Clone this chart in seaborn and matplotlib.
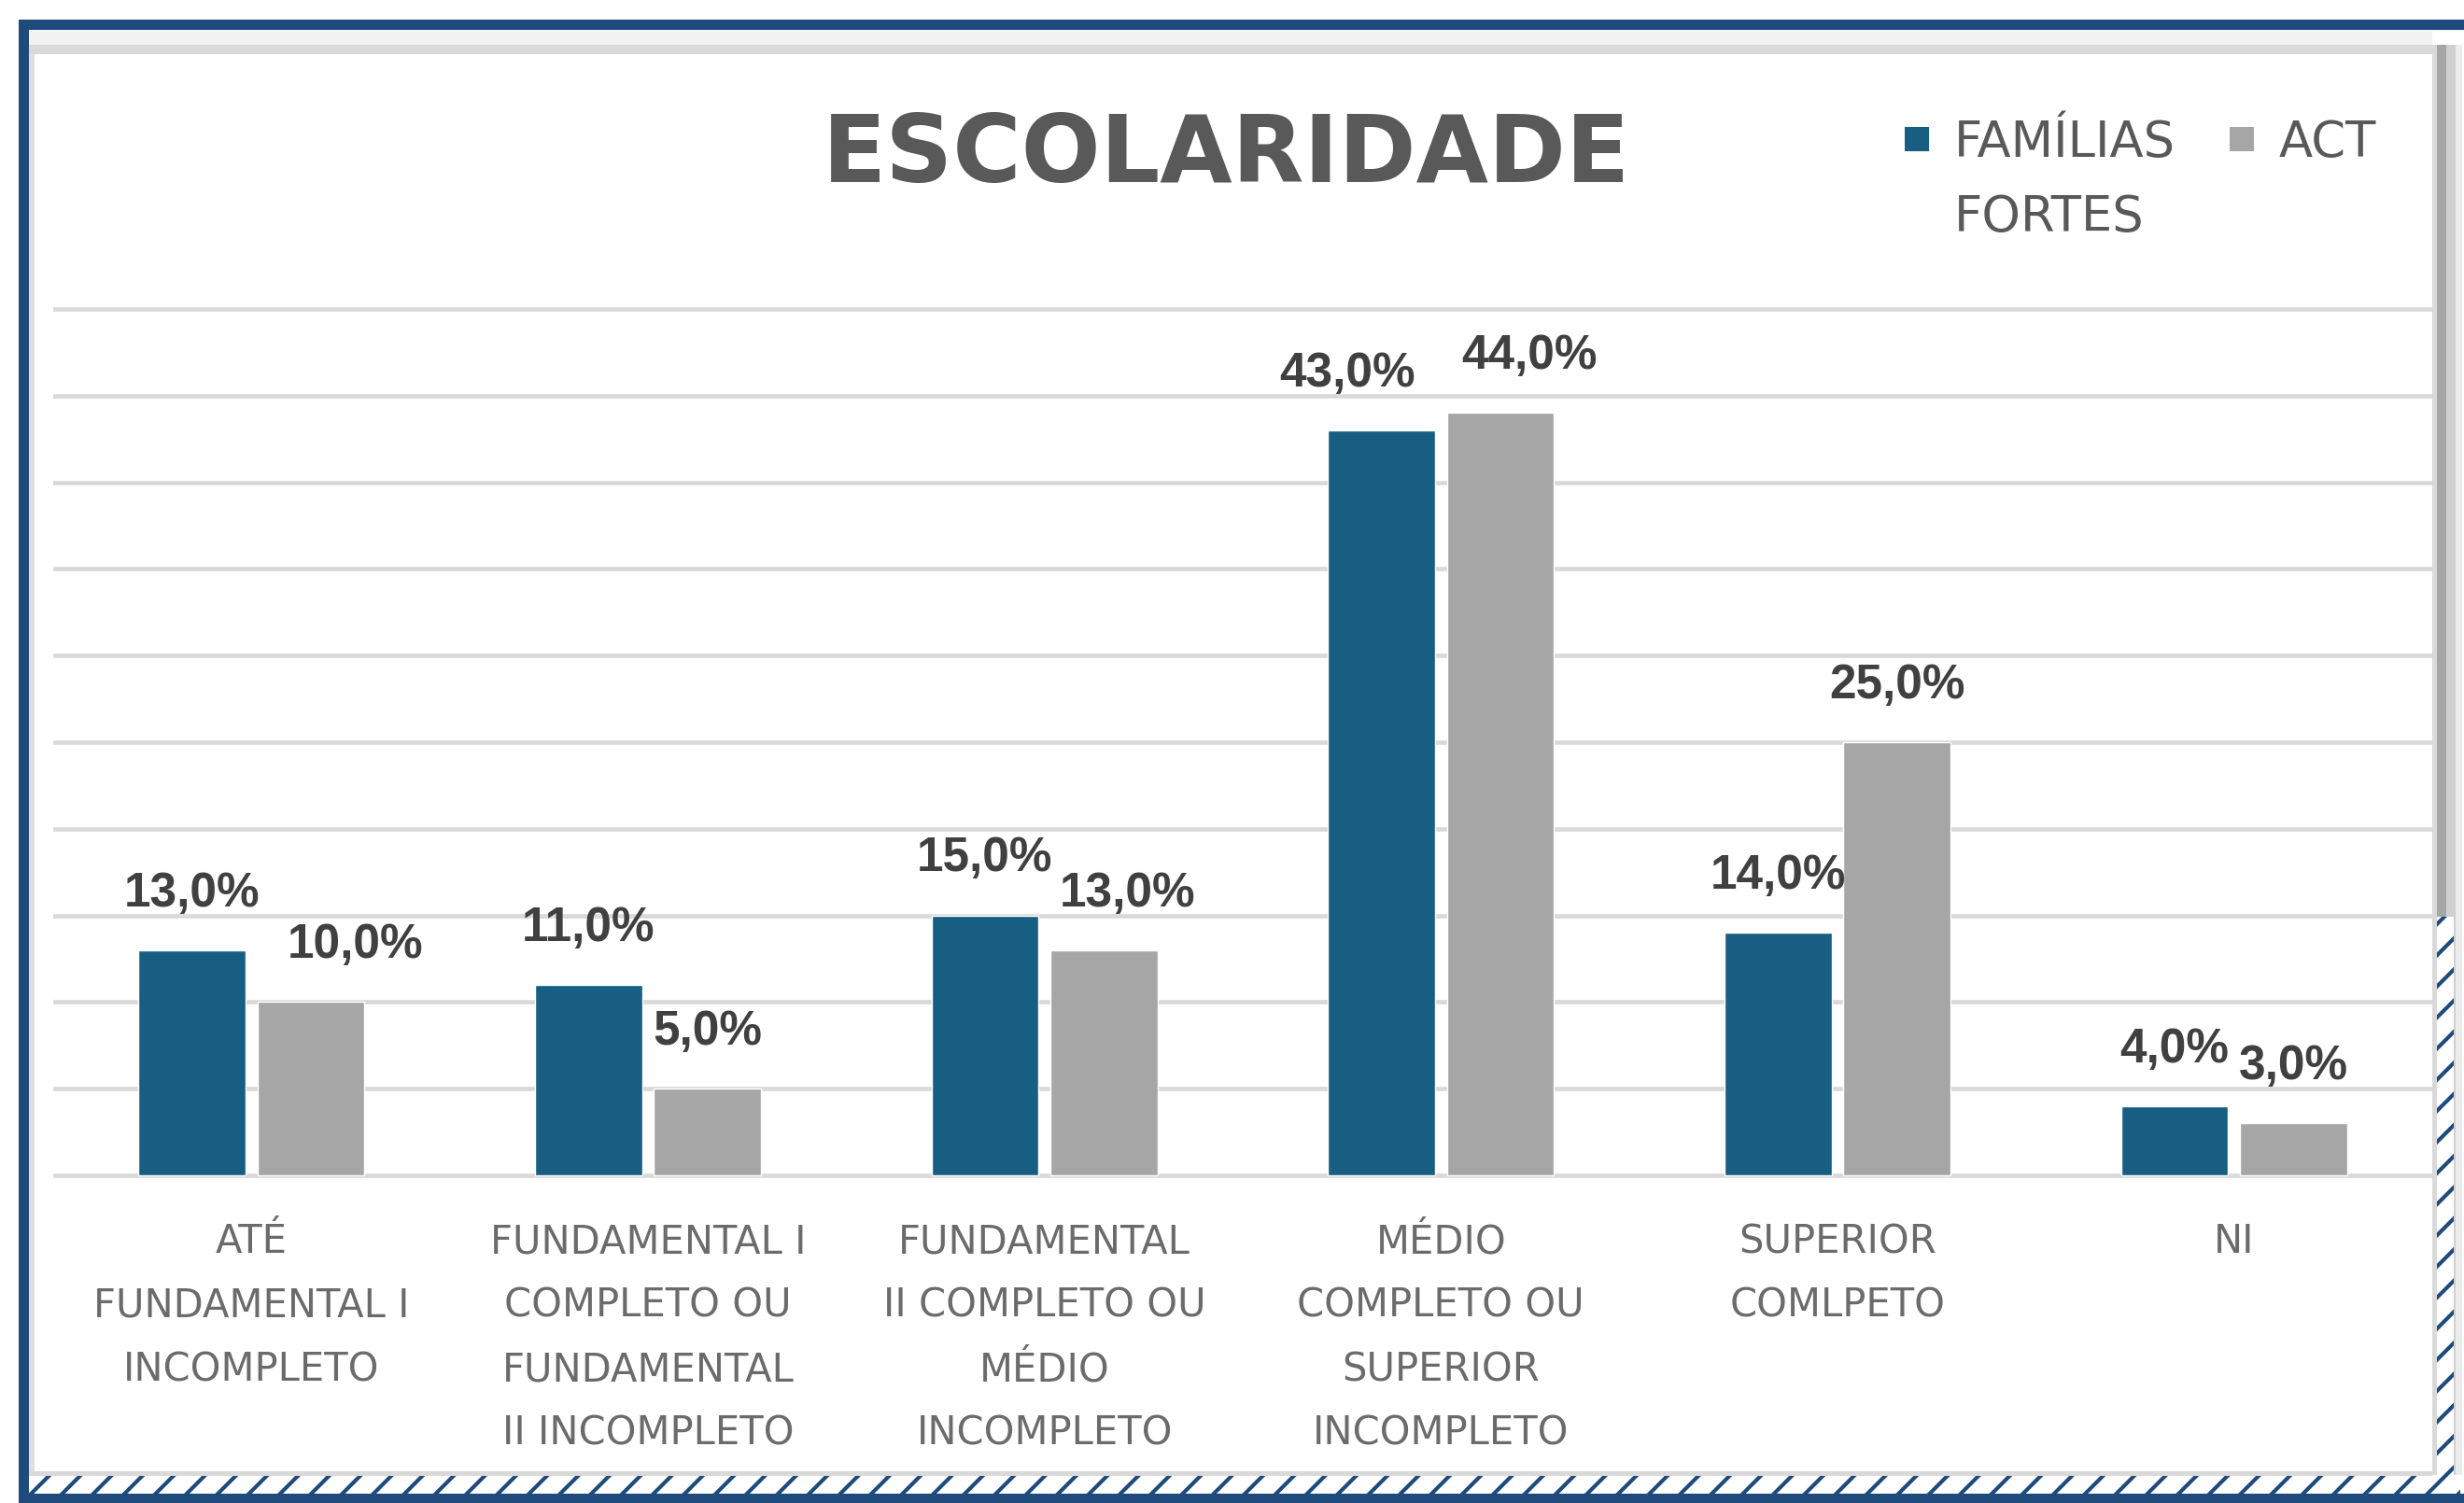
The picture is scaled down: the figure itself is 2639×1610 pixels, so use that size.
import numpy as np
import pandas as pd
import matplotlib
matplotlib.use("Agg")
import matplotlib.pyplot as plt
import seaborn as sns
from matplotlib.patches import Rectangle
from matplotlib.lines import Line2D

# data
categories = [
    "ATÉ\nFUNDAMENTAL I\nINCOMPLETO",
    "FUNDAMENTAL I\nCOMPLETO OU\nFUNDAMENTAL\nII INCOMPLETO",
    "FUNDAMENTAL\nII COMPLETO OU\nMÉDIO\nINCOMPLETO",
    "MÉDIO\nCOMPLETO OU\nSUPERIOR\nINCOMPLETO",
    "SUPERIOR\nCOMLPETO",
    "NI",
]
series_names = ["FAMÍLIAS\nFORTES", "ACT"]
familias_fortes = [13.0, 11.0, 15.0, 43.0, 14.0, 4.0]
act = [10.0, 5.0, 13.0, 44.0, 25.0, 3.0]
series_colors = ["#175e82", "#a6a6a6"]

df = pd.DataFrame({
    "categoria": categories * 2,
    "serie": [series_names[0]] * len(categories) + [series_names[1]] * len(categories),
    "valor": familias_fortes + act,
})

# small horizontal nudges (points) for a few value labels, like the original
label_nudge = {(0, 3): -26, (1, 3): 22, (1, 0): 34, (1, 2): 18}

W, H = 2639, 1610
sns.set_theme(style="white")
plt.rcParams["font.family"] = ["DejaVu Sans"]

fig = plt.figure(figsize=(W / 100, H / 100), dpi=100)
fig.patch.set_facecolor("white")


def px_rect(x0, y0, x1, y1, **kw):
    # box given in pixels, y measured from the top
    r = Rectangle((x0 / W, 1 - y1 / H), (x1 - x0) / W, (y1 - y0) / H,
                  transform=fig.transFigure, **kw)
    fig.add_artist(r)
    return r


# === frame around the chart ===
blue = "#1e4a7c"
px_rect(31, 33, 2605, 48, facecolor="#f2f2f2", lw=0)
px_rect(31, 48, 2605, 58, facecolor="#d9d9d9", lw=0)
px_rect(31, 58, 37, 1580, facecolor="#dedede", lw=0)
px_rect(2605, 48, 2610, 1580, facecolor="#d9d9d9", lw=0)
px_rect(2610, 48, 2620, 1580, facecolor="#a6a6a6", lw=0)
px_rect(2620, 48, 2630, 1580, facecolor="#cfcfcf", lw=0)
px_rect(2630, 48, 2637, 1580, facecolor="#ececec", lw=0)
plt.rcParams["hatch.linewidth"] = 3.0
px_rect(2610, 982, 2628, 1585, facecolor="white", edgecolor=blue, hatch="/", lw=0)
px_rect(31, 1576, 2605, 1581, facecolor="#d9d9d9", lw=0)
px_rect(31, 1581, 2635, 1600, facecolor="white", edgecolor=blue, hatch="/", lw=0)
px_rect(20, 21, 2639, 32, facecolor=blue, lw=0)
px_rect(20, 21, 31, 1610, facecolor=blue, lw=0)
px_rect(20, 1600, 2639, 1610, facecolor=blue, lw=0)

# === bars ===
ax = fig.add_axes([0.0216, 0.2152, 0.9655, 0.5821])
sns.barplot(
    data=df, x="categoria", y="valor", hue="serie",
    order=categories, hue_order=series_names,
    palette=dict(zip(series_names, series_colors)),
    width=0.6, gap=0.1, saturation=1, ax=ax, legend=False,
)

for si, (cont, vals) in enumerate(zip(ax.containers, [familias_fortes, act])):
    anns = ax.bar_label(
        cont, labels=[f"{v:.1f}%".replace(".", ",") for v in vals],
        padding=26, fontsize=37, fontweight="bold", color="#404040",
        family="Liberation Sans",
    )
    for ci, a in enumerate(anns):
        dx = label_nudge.get((si, ci), 0)
        a.xyann = (dx, a.xyann[1])

ax.set_ylim(-0.25, 50.25)
ax.set_xlim(-0.5, len(categories) - 0.5)
ax.set_yticks(np.arange(0, 51, 5))
ax.set_yticklabels([])
ax.tick_params(axis="y", length=0)
ax.tick_params(axis="x", length=0, pad=33, labelsize=30, labelcolor="#6b6b6b")
for t in ax.get_xticklabels():
    t.set_linespacing(1.8)
    t.set_va("top")
ax.yaxis.grid(True, color="#d9d9d9", linewidth=3.3)
ax.set_axisbelow(True)
ax.set_xlabel("")
ax.set_ylabel("")
for s in ax.spines.values():
    s.set_visible(False)
ax.set_facecolor("none")

# legend: square markers, first line of each label aligned at the top
handles = [Line2D([], [], marker="s", linestyle="", markersize=19,
                  markerfacecolor=c, markeredgewidth=0) for c in series_colors]
leg = ax.legend(
    handles, series_names, ncol=2, frameon=False,
    loc="upper left", bbox_to_anchor=(2037 / W, 1 - 127 / H),
    bbox_transform=fig.transFigure,
    fontsize=38, labelcolor="#595959",
    handlelength=0.6, handleheight=1.1, handletextpad=0.45,
    columnspacing=1.05, borderpad=0, borderaxespad=0,
)
for t in leg.get_texts():
    t.set_linespacing(1.68)
hb = leg._legend_handle_box
hb.align = "top"
for col in hb.get_children():
    for item in col.get_children():
        item.align = "top"

fig.text(1313 / W, 1 - 167 / H, "ESCOLARIDADE", ha="center", va="center",
         fontsize=72, fontweight="bold", color="#595959")

fig.savefig("out.png", dpi=100)
